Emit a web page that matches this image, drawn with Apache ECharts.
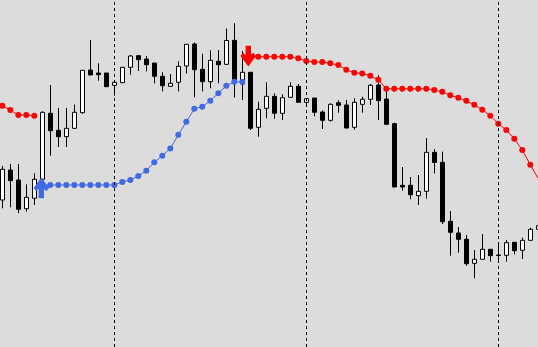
<!DOCTYPE html>
<html>
<head>
<meta charset="utf-8">
<script src="https://cdn.jsdelivr.net/npm/echarts@6/dist/echarts.min.js"></script>
<style>
html,body{margin:0;padding:0;background:#dcdcdc;}
#chart{width:538px;height:347px;}
</style>
</head>
<body>
<div id="chart"></div>
<script>
var barIndex = [];
for (var k = 0; k < 68; k++) barIndex.push(k);

var opens  = [200,230,220,191.3,201.7,220.7,286.7,269.7,263.3,271.7,287.3,330,327,327,314.7,317.3,332.7,344.3,341,337,323.7,313.7,317.7,334,356,330.7,318.3,338.7,335.7,359.7,316,327.7,272.7,291.7,303.7,286.7,302.7,313.7,297.7,302,288,279.7,297.3,295,272.7,295.7,300.7,315,301,276.3,214.7,214.7,204.3,208.7,247.7,237.7,178.7,167,160.7,136.7,140.7,150.7,145,144.7,157.7,149.7,159.7,170.7];
var closes = [230.7,219.3,190.7,202.7,220.7,287.7,269.3,263.3,271.7,287.7,329.7,325,325.3,313.3,317.7,332.7,344,340.3,335.3,323.7,314.3,316.7,333.7,355.7,330.3,318.3,339.7,335.3,359.5,319.5,327.7,271.7,290.7,303.7,286.7,302.3,313.7,297.7,301.3,287.7,279.7,295.7,294.7,272,297.7,300.7,314.7,299.3,275.7,213,213,205.3,208.7,247.7,237.5,178.3,167.7,160.7,136.3,140.7,150.7,144.3,144.5,157.3,149.3,159.7,170.7,174.3];
var lows   = [191.7,192.7,186.7,188.3,195,220.5,244.3,253,253,271,286.3,325,319.3,313.3,304.3,317,325.3,329,328.7,316.7,308.7,313.7,308.7,326.5,302.7,308.7,311.7,316.7,335,302.5,300,270,263.3,281.7,281.3,280,302.7,297.7,293.3,283.7,271,278.3,287.3,271.7,270.3,287.3,295,280,275.5,213,209.3,200.7,195,201.3,226.5,176,144.3,147.3,134.3,121.7,140.7,138.3,138.3,138.3,145.7,141,159.7,170.7];
var highs  = [234,236,236,215.7,226.7,288.7,315,292,292,295.5,330,360,336.7,327,318,332.7,345,345,344,337,327.7,326,338.7,355.7,357.5,346.3,349.7,350,371.5,376.8,349,327.7,298.3,317.7,306.7,305.7,317.7,316,301.5,302,289.7,296.7,299.7,300,301.7,303.3,316,324.7,310,277.3,233,223,225,262,251,248.3,189,173,165,150,166,150.7,156,160,157.7,162.3,172.3,176];

var redDots = [294.3,290,285,285,284.3,
  null,null,null,null,null,null,null,null,null,null,null,null,null,null,null,null,null,null,null,null,null,null,null,null,null,null,
  343.3,343.3,343.3,343.3,343.3,343.3,341.7,339,338,338,336.7,335,330.3,327.3,326.5,324.2,320.2,311.2,311.2,311.2,311.2,311.2,311.2,310,308.3,304.7,302.3,299.2,295.2,290.3,284.3,276.3,270,261.2,250,235.2,221.2];
var blueDots = [null,null,null,null,null,
  215,215,215,215,215,215,215,215,215,215,218,220,224,229.3,237.8,244.3,251.5,265.2,278.2,291.2,293.2,299.3,306.8,314.2,318.2,318.2,
  null,null,null,null,null,null,null,null,null,null,null,null,null,null,null,null,null,null,null,null,null,null,null,null,null,null,null,null,null,null,null,null,null,null,null,null,null];

var upArrows = [{bar: 5, price: 212}];
var downArrows = [{bar: 31, price: 344}];
var separatorBars = [14, 38, 62];

var ohlc = [], red = [], blue = [];
for (var i = 0; i < barIndex.length; i++) {
  ohlc.push([barIndex[i], opens[i], closes[i], lows[i], highs[i]]);
  red.push([barIndex[i], redDots[i]]);
  blue.push([barIndex[i], blueDots[i]]);
}

var upPath = 'path://M4.8,19 L9.2,19 L9.2,9 L12,11.8 L14,9.5 L7,0 L0,9.5 L2,11.8 L4.8,9 Z';
var downPath = 'path://M4.8,0 L9.2,0 L9.2,10 L12,7.2 L14,9.5 L7,19 L0,9.5 L2,7.2 L4.8,10 Z';

var chart = echarts.init(document.getElementById('chart'), null, {renderer: 'canvas'});
chart.setOption({
  backgroundColor: '#dcdcdc',
  animation: false,
  grid: {left: 0, right: 0, top: 0, bottom: 0, containLabel: false},
  xAxis: {
    type: 'value', min: -0.2875, max: 66.9625,
    axisLine: {show: false}, axisTick: {show: false}, axisLabel: {show: false}, splitLine: {show: false}
  },
  yAxis: {
    type: 'value', min: 53, max: 400,
    axisLine: {show: false}, axisTick: {show: false}, axisLabel: {show: false}, splitLine: {show: false}
  },
  series: [
    {
      type: 'candlestick',
      data: ohlc,
      encode: {x: 0, y: [1, 2, 3, 4]},
      barWidth: 5,
      z: 2,
      itemStyle: {color: '#ffffff', color0: '#000000', borderColor: '#000000', borderColor0: '#000000', borderWidth: 1},
      markLine: {
        silent: true, symbol: ['none', 'none'], label: {show: false},
        lineStyle: {color: '#000000', type: [3, 3], width: 1},
        data: separatorBars.map(function (b) { return {xAxis: b}; })
      }
    },
    {
      type: 'line', data: blue, z: 3,
      symbol: 'circle', symbolSize: 6, showSymbol: true, showAllSymbol: true,
      itemStyle: {color: '#4169e1'}, lineStyle: {color: '#4169e1', width: 1},
      markPoint: {
        symbol: upPath, symbolSize: [14, 19], symbolOffset: [-1, 0],
        itemStyle: {color: '#4169e1', borderColor: '#4169e1', borderWidth: 1.2}, label: {show: false},
        data: upArrows.map(function (a) { return {coord: [a.bar, a.price]}; })
      }
    },
    {
      type: 'line', data: red, z: 3,
      symbol: 'circle', symbolSize: 6, showSymbol: true, showAllSymbol: true,
      itemStyle: {color: '#ff0000'}, lineStyle: {color: '#ff0000', width: 1},
      markPoint: {
        symbol: downPath, symbolSize: [14, 19], symbolOffset: [-2, 0],
        itemStyle: {color: '#ff0000', borderColor: '#ff0000', borderWidth: 1.2}, label: {show: false},
        data: downArrows.map(function (a) { return {coord: [a.bar, a.price]}; })
      }
    }
  ]
});
</script>
</body>
</html>
